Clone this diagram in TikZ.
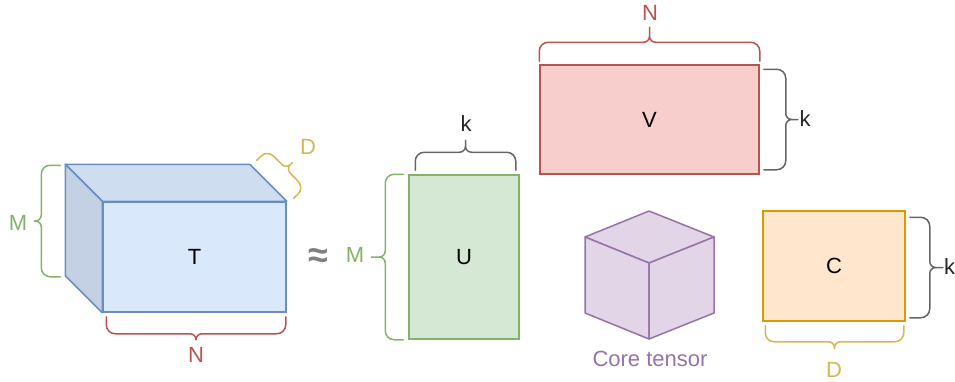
\documentclass[tikz,border=0pt]{standalone}
\usepackage{fontspec}
\setmainfont{Liberation Sans}
\usepackage{xcolor}
\usetikzlibrary{calc,positioning,decorations}
\definecolor{tblue}{HTML}{DAE8FC}
\definecolor{tbluetop}{RGB}{207,221,240}
\definecolor{tblueside}{RGB}{196,208,227}
\definecolor{tbluedraw}{HTML}{6C8EBF}
\definecolor{ugreen}{HTML}{D5E8D4}
\definecolor{ugreendraw}{HTML}{82B366}
\definecolor{vred}{HTML}{F8CECC}
\definecolor{vreddraw}{HTML}{B85450}
\definecolor{corepurple}{HTML}{E1D5E7}
\definecolor{corepurpledraw}{HTML}{9673A6}
\definecolor{corange}{HTML}{FFE6CC}
\definecolor{corangedraw}{HTML}{D79B00}
\definecolor{dgold}{HTML}{D6B656}
\definecolor{kgray}{HTML}{666666}
% curly bracket in the draw.io manner: body at the amplitude, tip at \curlytip
\pgfdeclaredecoration{curly}{curly}{%
  \state{curly}[width=+\pgfdecoratedremainingdistance,next state=final]{%
    \pgfmathsetlengthmacro{\crvL}{\pgfdecoratedremainingdistance}%
    \pgfmathsetlengthmacro{\crvH}{0.5*\pgfdecoratedremainingdistance}%
    \pgfmathsetlengthmacro{\crvA}{\pgfdecorationsegmentamplitude}%
    \pgfmathsetlengthmacro{\crvR}{9pt}%
    \pgfmathsetlengthmacro{\crvK}{0.448*\crvR}%
    \pgfmathsetlengthmacro{\crvM}{6pt}%
    \pgfmathsetlengthmacro{\crvN}{0.448*\crvM}%
    \pgfpathmoveto{\pgfpointorigin}%
    \pgfpathlineto{\pgfpoint{0pt}{\crvA-\crvR}}%
    \pgfpathcurveto{\pgfpoint{0pt}{\crvA-\crvK}}{\pgfpoint{\crvK}{\crvA}}{\pgfpoint{\crvR}{\crvA}}%
    \pgfpathlineto{\pgfpoint{\crvH-\crvM}{\crvA}}%
    \pgfpathcurveto{\pgfpoint{\crvH-\crvN}{\crvA}}{\pgfpoint{\crvH}{\crvA+\crvN}}{\pgfpoint{\crvH}{\crvA+\crvM}}%
    \pgfpathlineto{\pgfpoint{\crvH}{\curlytip}}%
    \pgfpathmoveto{\pgfpoint{\crvL}{0pt}}%
    \pgfpathlineto{\pgfpoint{\crvL}{\crvA-\crvR}}%
    \pgfpathcurveto{\pgfpoint{\crvL}{\crvA-\crvK}}{\pgfpoint{\crvL-\crvK}{\crvA}}{\pgfpoint{\crvL-\crvR}{\crvA}}%
    \pgfpathlineto{\pgfpoint{\crvH+\crvM}{\crvA}}%
    \pgfpathcurveto{\pgfpoint{\crvH+\crvN}{\crvA}}{\pgfpoint{\crvH}{\crvA+\crvN}}{\pgfpoint{\crvH}{\crvA+\crvM}}%
  }%
  \state{final}{\pgfpathmoveto{\pgfpointdecoratedpathlast}}%
}
\tikzset{curly tip/.store in=\curlytip, curly tip=24pt, box/.style={rectangle, line width=1.5pt, inner sep=0pt, font=\fontsize{22}{25}\selectfont}, lbl/.style={inner sep=0pt, font=\fontsize{22}{25}\selectfont}, curlybr/.style 2 args={decorate, decoration={curly, amplitude=#1}, curly tip=#2, line width=1.5pt, line cap=round}, face/.style={line width=1.5pt, line join=round}}

\begin{document}
\begin{tikzpicture}[x=1pt, y=-1pt]
\useasboundingbox (0,0) rectangle (955,381);
% tensor T as a cuboid
\node[box, draw=tbluedraw, fill=tblue, minimum width=183pt, minimum height=110pt] (T) at (194.5,257) {T};
\draw[face, draw=tbluedraw, fill=tbluetop] (T.north west) -- ($(T.north west)+(-37,-37)$) -- ($(T.north east)+(-37,-37)$) -- (T.north east) -- cycle;
\draw[face, draw=tbluedraw, fill=tblueside] (T.north west) -- ($(T.north west)+(-37,-37)$) -- ($(T.south west)+(-37,-37)$) -- (T.south west) -- cycle;
\draw[curlybr={19pt}{26pt}, draw=ugreendraw] ($(T.south west)+(-42,-36)$) -- ($(T.north west)+(-42,-36)$);
\draw[curlybr={17pt}{23pt}, draw=vreddraw] ($(T.south east)+(-1,4)$) -- ($(T.south west)+(4,4)$);
\draw[curlybr={15pt}{24pt}, draw=dgold] ($(T.north east)+(-30,-41)$) -- ($(T.north east)+(7,-3)$);
\node[lbl, text=ugreendraw] (TM) at (18,223) {M};
\node[lbl, text=vreddraw] (TN) at (196,355) {N};
\node[lbl, text=dgold] (TD) at (308,147) {D};
\node[inner sep=0pt, text=black!50, font=\fontsize{36}{36}\selectfont\bfseries] (approx) at (318,258) {≈};
% factor U
\node[box, draw=ugreendraw, fill=ugreen, minimum width=110pt, minimum height=164pt] (U) at (464,257) {U};
\draw[curlybr={18pt}{32pt}, draw=ugreendraw] ($(U.south west)+(-5,0)$) -- ($(U.north west)+(-5,0)$);
\draw[curlybr={18pt}{30pt}, draw=kgray] ($(U.north west)+(7,-4)$) -- ($(U.north east)+(-4,-4)$);
\node[lbl, text=ugreendraw] (UM) at (355,255) {M};
\node[lbl, text=black!85] (Uk) at (466,124) {k};
% factor V
\node[box, draw=vreddraw, fill=vred, minimum width=219pt, minimum height=109pt] (V) at (649.5,119.5) {V};
\draw[curlybr={19pt}{34pt}, draw=vreddraw] ($(V.north west)+(0,-3)$) -- ($(V.north east)+(0,-3)$);
\draw[curlybr={22pt}{34pt}, draw=kgray] ($(V.north east)+(4,5)$) -- ($(V.south east)+(4,-5)$);
\node[lbl, text=vreddraw] (VN) at (650,12.5) {N};
\node[lbl, text=black!85] (Vk) at (805,118.5) {k};
% core tensor
\coordinate (core) at (649,263);
\draw[face, draw=corepurpledraw, fill=corepurple] (core) -- ++(-64,-26) -- ++(64,-26) -- ++(65,26) -- cycle;
\draw[face, draw=corepurpledraw, fill=corepurple] (core) -- ++(-64,-26) -- ++(0,76) -- ++(64,26) -- cycle;
\draw[face, draw=corepurpledraw, fill=corepurple] (core) -- ++(65,-26) -- ++(0,76) -- ++(-65,26) -- cycle;
\node[lbl, text=corepurpledraw, anchor=base] (coretxt) at (650,366) {Core tensor};
% factor C
\node[box, draw=corangedraw, fill=corange, minimum width=142pt, minimum height=110pt] (C) at (834,266) {C};
\draw[curlybr={20pt}{33pt}, draw=kgray] ($(C.north east)+(4,7)$) -- ($(C.south east)+(4,-4)$);
\draw[curlybr={16pt}{23pt}, draw=dgold] ($(C.south east)+(-2,4)$) -- ($(C.south west)+(3,4)$);
\node[lbl, text=black!85, anchor=west] (Ck) at (944,267) {k};
\node[lbl, text=dgold] (CD) at (834,370) {D};
\end{tikzpicture}
\end{document}
